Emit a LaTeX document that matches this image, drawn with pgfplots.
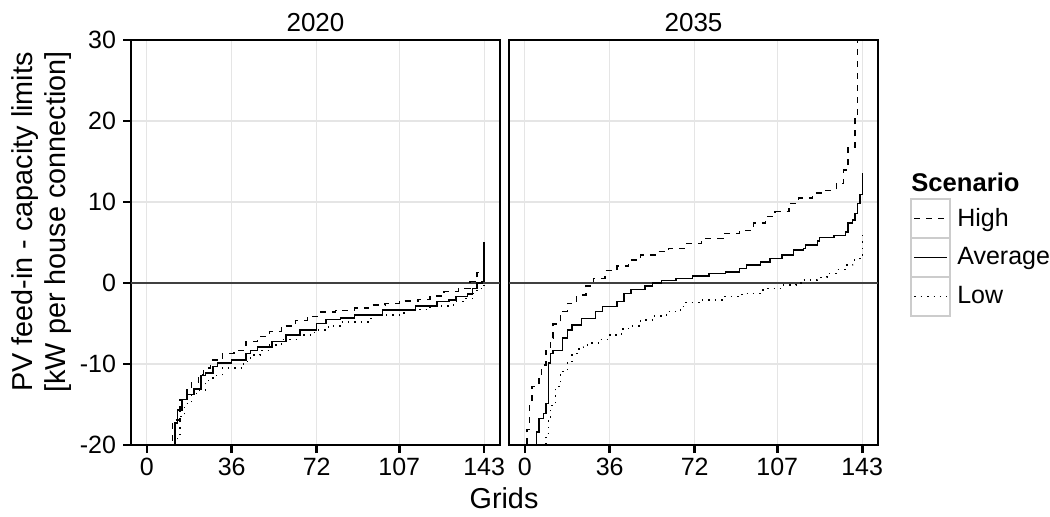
\documentclass[border=0pt]{standalone}
\usepackage{fontspec}
\setmainfont{Liberation Sans}
\usepackage{pgfplots}
\pgfplotsset{compat=1.18}

\pgfplotstableread{
x y
0 -40
10 -40
11 -16.9
14 -14.4
17 -12.9
19 -12.2
22 -11.3
24 -10.5
27 -9.5
32 -8.7
37 -8.3
42 -7.2
47 -6.6
52 -6.0
57 -5.3
63 -4.65
68 -4.15
73 -3.6
80 -3.4
88 -3.1
94 -2.7
101 -2.5
107 -2.2
115 -2.0
120 -1.6
126 -1.07
132 -0.66
137 0.16
140 1.27
143 5.2
}\hightwenty

\pgfplotstableread{
x y
0 -40
12 -17.3
13 -15.7
15 -14.4
17 -13.8
20 -13.1
23 -11.4
25 -11.1
28 -10.3
30 -9.9
36 -9.5
42 -8.7
44 -8.3
47 -7.9
53 -7.2
59 -6.4
65 -5.8
72 -5.0
76 -4.5
82 -4.3
88 -3.95
100 -3.33
114 -2.84
123 -2.3
128 -2.1
131 -1.7
136 -1.36
138 -0.66
140 0
142 0.16
143 5.0
}\avgtwenty

\pgfplotstableread{
x y
0 -40
13 -19
14 -16.5
16 -14.9
19 -13.8
21 -13.2
25 -12.0
28 -11.4
32 -10.5
41 -9.7
44 -8.9
48 -8.3
52 -7.65
57 -7.0
64 -6.4
71 -5.8
77 -5.3
82 -4.8
95 -3.95
109 -3.3
120 -2.84
130 -2.3
135 -1.9
138 -1.27
140 -0.66
143 -0.25
}\lowtwenty

\pgfplotstableread{
x y
0 -30
1 -18.1
2 -14.9
3 -12.8
6 -11.4
7 -10.1
9 -8.3
11 -6.8
12 -5.06
15 -3.5
18 -2.5
22 -1.48
26 -0.37
29 0.58
34 1.52
39 2.1
44 2.84
49 3.46
56 3.86
61 4.28
68 4.9
75 5.5
84 6.1
91 6.5
97 7.4
102 8.2
106 8.8
112 9.8
116 10.5
122 11.1
127 11.4
132 12.3
135 13.95
137 16.8
140 20.3
141 40
143 60
}\highthirtyfive

\pgfplotstableread{
x y
0 -30
5 -18.4
6 -16.7
8 -16.1
9 -14.9
10 -9.9
11 -8.7
12 -8.3
16 -6.8
18 -5.8
20 -5.2
24 -4.36
30 -3.5
33 -2.9
39 -2.3
42 -1.27
45 -0.78
51 -0.37
54 0
58 0.28
64 0.58
71 0.86
78 1.2
85 1.36
91 1.81
94 2.2
100 2.6
104 3.05
109 3.46
114 4.07
118 4.28
119 4.7
124 5.2
125 5.6
131 5.9
136 6.3
137 7.4
139 7.8
140 8.6
141 9.8
142 10.9
143 13.6
}\avgthirtyfive

\pgfplotstableread{
x y
0 -30
9 -18.6
10 -16.9
11 -15.1
13 -12.8
15 -10.9
18 -9.9
20 -8.7
23 -7.9
25 -7.65
28 -7.4
32 -6.95
36 -6.4
41 -5.7
44 -5.3
49 -4.57
54 -4.07
60 -3.5
66 -2.9
68 -2.4
74 -2.1
84 -1.7
92 -1.27
101 -0.66
109 -0.25
115 0
118 0.37
124 0.7
128 1.2
132 1.69
136 2.22
139 2.84
142 3.46
143 6.1
}\lowthirtyfive

\begin{document}
\begin{tikzpicture}
\useasboundingbox (0pt,0pt) rectangle (525pt,258pt);
\pgfplotsset{
  panel/.style={
    anchor=south west, scale only axis,
    width=184.5pt, height=202.5pt,
    xmin=-6.7, xmax=149.7, ymin=-20, ymax=30,
    xtick={0,36,72,107,143}, ytick={-20,-10,0,10,20,30},
    axis line style={black, line width=1.3pt},
    tick style={black, line width=1.3pt},
    major tick length=4pt, tick align=outside, tick pos=left,
    grid=major, grid style={gray!20, line width=0.6pt},
    ticklabel style={font=\fontsize{12.5}{14}\selectfont},
    xticklabel style={yshift=1pt},
    /pgf/number format/assume math mode=true,
    title style={at={(0.5,1)}, anchor=base, yshift=-1.5pt, font=\fontsize{13}{15}\selectfont},
  },
  hl/.style={black!75, line width=0.6pt, forget plot},
  hi/.style={black, line width=0.7pt, const plot, dash pattern=on 3pt off 3pt},
  av/.style={black, line width=0.7pt, const plot},
  lo/.style={black, line width=0.7pt, const plot, dash pattern=on 0.7pt off 2.5pt},
}
\begin{axis}[panel, at={(65.5pt,35.5pt)}, title={2020}]
  \addplot[hl] coordinates {(-6.7,0) (149.7,0)};
  \addplot[hi] table[x=x,y=y] {\hightwenty};
  \addplot[av] table[x=x,y=y] {\avgtwenty};
  \addplot[lo] table[x=x,y=y] {\lowtwenty};
\end{axis}
\begin{axis}[panel, at={(254.5pt,35.5pt)}, title={2035}, ymajorticks=false,
  legend style={at={(1.0876,0.6099)}, anchor=north west, draw=none, fill=none,
    inner sep=0pt, outer sep=0pt, row sep=-1pt, column sep=3pt,
    font=\fontsize{12.5}{14}\selectfont, nodes={inner sep=0pt}},
  legend cell align=left,
  legend image code/.code={
    \draw[gray!40, line width=1pt, solid] (0pt,-9.75pt) rectangle (19.5pt,9.75pt);
    \draw[#1] (1.5pt,0pt) -- (18pt,0pt);
  }]
  \addplot[hl] coordinates {(-6.7,0) (149.7,0)};
  \addplot[hi] table[x=x,y=y] {\highthirtyfive};
  \addlegendentry{High}
  \addplot[av] table[x=x,y=y] {\avgthirtyfive};
  \addlegendentry{Average}
  \addplot[lo] table[x=x,y=y] {\lowthirtyfive};
  \addlegendentry{Low}
\end{axis}
\node[anchor=west, inner sep=0pt, font=\fontsize{12.8}{14}\selectfont\bfseries] at (455.5pt,167pt) {Scenario};
\node[font=\fontsize{14.4}{17}\selectfont, inner sep=0pt] at (252pt,9pt) {Grids};
\node[rotate=90, align=center, font=\fontsize{14.4}{16.5}\selectfont, inner sep=0pt] at (20.75pt,147pt) {PV feed-in - capacity limits\\{[kW per house connection]}};
\end{tikzpicture}
\end{document}
